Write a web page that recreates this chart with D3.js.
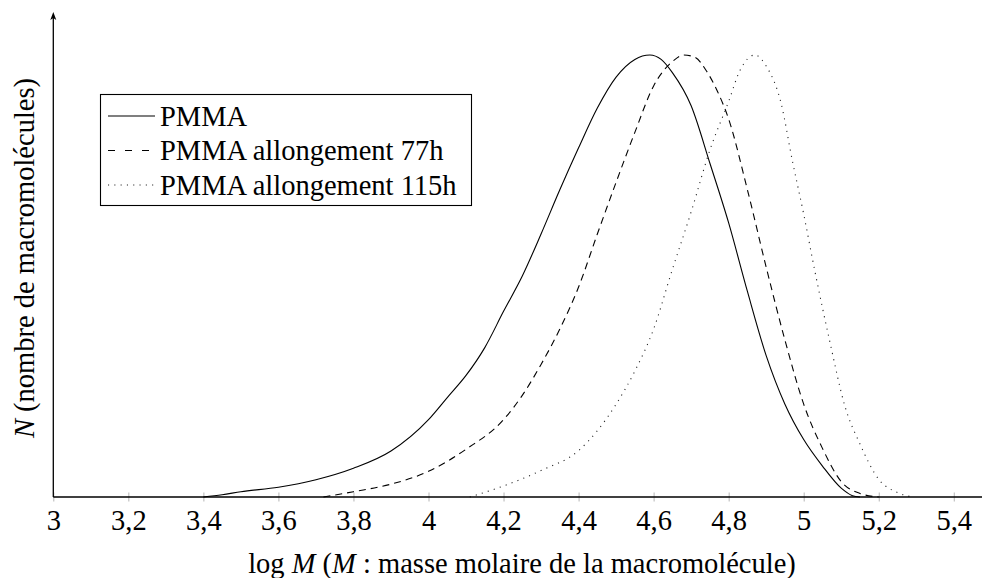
<!DOCTYPE html>
<html><head><meta charset="utf-8">
<script src="https://cdn.jsdelivr.net/npm/d3@7"></script>
<style>
html,body{margin:0;padding:0;background:#fff;}
svg{display:block;}
text{font-family:"Liberation Serif","Tinos","Times New Roman",serif;fill:#000;}
</style></head>
<body>
<svg id="chart" width="982" height="578"></svg>
<script>
// ---- data ----
const seriesNames = ["PMMA", "PMMA allongement 77h", "PMMA allongement 115h"];
const tickValues = [3, 3.2, 3.4, 3.6, 3.8, 4, 4.2, 4.4, 4.6, 4.8, 5, 5.2, 5.4];
const tickLabels = ["3", "3,2", "3,4", "3,6", "3,8", "4", "4,2", "4,4", "4,6", "4,8", "5", "5,2", "5,4"];

const pmmaLogM = [3.40,3.45,3.50,3.60,3.70,3.80,3.90,4.00,4.05,4.10,4.15,4.20,4.25,4.30,4.35,4.40,4.45,4.50,4.55,4.59,4.62,4.65,4.70,4.75,4.80,4.85,4.90,4.95,5.00,5.05,5.10,5.13,5.15];
const pmmaN    = [0,0.005,0.012,0.022,0.039,0.065,0.104,0.175,0.225,0.275,0.338,0.42,0.50,0.595,0.695,0.79,0.88,0.95,0.99,1.0,0.99,0.96,0.885,0.755,0.62,0.465,0.32,0.21,0.13,0.07,0.02,0.003,0];

const p77LogM = [3.72,3.80,3.90,4.00,4.10,4.20,4.25,4.30,4.35,4.40,4.45,4.50,4.55,4.60,4.65,4.68,4.71,4.74,4.77,4.80,4.85,4.90,4.95,5.00,5.05,5.10,5.15,5.20];
const p77N    = [0,0.012,0.029,0.058,0.108,0.175,0.23,0.30,0.38,0.475,0.595,0.712,0.825,0.93,0.985,1.0,0.995,0.965,0.918,0.855,0.695,0.52,0.355,0.21,0.11,0.035,0.008,0];

const p115LogM = [4.11,4.20,4.30,4.40,4.45,4.50,4.55,4.60,4.65,4.70,4.75,4.80,4.83,4.87,4.90,4.94,4.97,5.00,5.03,5.07,5.11,5.15,5.20,5.25,5.29];
const p115N    = [0,0.025,0.06,0.105,0.15,0.21,0.285,0.38,0.515,0.645,0.785,0.895,0.965,1.0,0.975,0.89,0.76,0.64,0.51,0.35,0.205,0.12,0.04,0.01,0];

// ---- chart ----
const FS = "28.5px";
const svg = d3.select("#chart");
const x0 = 53.3, xPerUnit = 375.2;
const x = d3.scaleLinear().domain([3, 5.4]).range([x0, x0 + 2.4 * xPerUnit]);
const y = d3.scaleLinear().domain([0, 1]).range([497, 55]);
const yBase = y(0);

const series = [
  {name: seriesNames[0], xs: pmmaLogM, ys: pmmaN, dash: null, color: "#000"},
  {name: seriesNames[1], xs: p77LogM, ys: p77N, dash: "7,5", color: "#000"},
  {name: seriesNames[2], xs: p115LogM, ys: p115N, dash: "1.1,5.2", color: "#222"}
];

const line = d3.line().x(d => x(d[0])).y(d => y(d[1])).curve(d3.curveMonotoneX);

// x axis ticks + labels
const axis = d3.axisBottom(x).tickValues(tickValues)
  .tickFormat((d, i) => tickLabels[i]).tickSizeOuter(0).tickSizeInner(0).tickPadding(0);
const gx = svg.append("g").attr("transform", `translate(0,${yBase})`).call(axis);
gx.select(".domain").remove();
gx.selectAll(".tick line").attr("y1", -4.5).attr("y2", 4.5).attr("stroke", "#b5b5b5").attr("stroke-width", 1);
gx.selectAll(".tick text").attr("y", 33).attr("dy", null)
  .style("font-family", '"Liberation Serif","Tinos",serif').style("font-size", FS).attr("fill", "#000");

// curves
series.forEach(s => {
  svg.append("path")
    .datum(s.xs.map((v, i) => [v, s.ys[i]]))
    .attr("d", line)
    .attr("fill", "none")
    .attr("stroke", s.color)
    .attr("stroke-width", 1.1)
    .attr("stroke-dasharray", s.dash);
});

// axis lines
svg.append("line").attr("x1", x0).attr("x2", 982).attr("y1", yBase).attr("y2", yBase)
  .attr("stroke", "#000").attr("stroke-width", 1.3);
svg.append("line").attr("x1", x0).attr("x2", x0).attr("y1", yBase).attr("y2", 16)
  .attr("stroke", "#000").attr("stroke-width", 1.3);
svg.append("path").attr("d", `M${x0},12 L${x0-3},20 L${x0},18 L${x0+3},20 Z`).attr("fill", "#000");

// legend
const lg = svg.append("g");
lg.append("rect").attr("x", 100.5).attr("y", 94.5).attr("width", 371).attr("height", 111)
  .attr("fill", "#fff").attr("stroke", "#000").attr("stroke-width", 1.1);
const rowY = [116, 150.5, 185];
series.forEach((s, i) => {
  lg.append("line").attr("x1", 108).attr("x2", 155).attr("y1", rowY[i]).attr("y2", rowY[i])
    .attr("stroke", s.color).attr("stroke-width", 1.1)
    .attr("stroke-dasharray", i === 1 ? "7,10" : s.dash);
  lg.append("text").attr("x", 160).attr("y", rowY[i] + 9.5)
    .style("font-size", FS).text(s.name);
});

// axis titles
const xt = svg.append("text").attr("x", 522).attr("y", 573).attr("text-anchor", "middle").style("font-size", FS);
xt.append("tspan").text("log ");
xt.append("tspan").attr("font-style", "italic").text("M");
xt.append("tspan").text(" (");
xt.append("tspan").attr("font-style", "italic").text("M");
xt.append("tspan").text(" : masse molaire de la macromolécule)");

const yt = svg.append("text").attr("transform", "translate(34,258) rotate(-90)")
  .attr("text-anchor", "middle").style("font-size", FS);
yt.append("tspan").attr("font-style", "italic").text("N");
yt.append("tspan").text(" (nombre de macromolécules)");
</script>
</body></html>
